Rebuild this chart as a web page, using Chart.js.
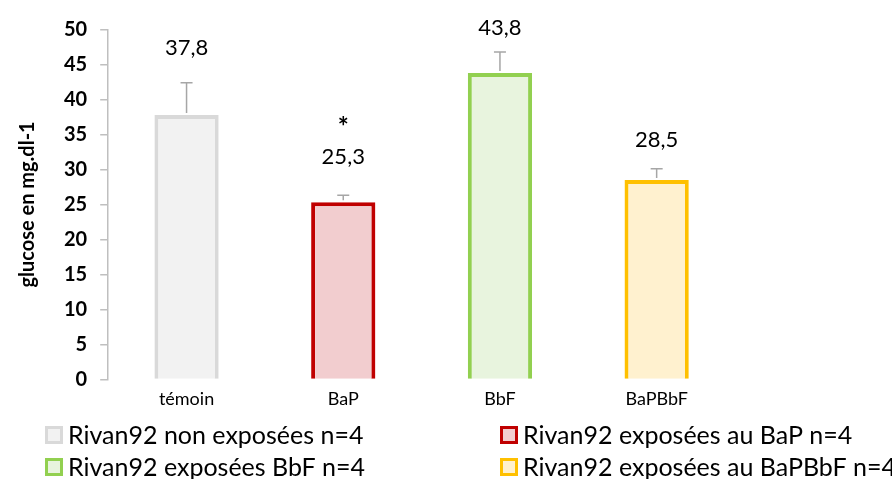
<!DOCTYPE html>
<html><head><meta charset="utf-8">
<script src="https://cdn.jsdelivr.net/npm/chart.js@4/dist/chart.umd.min.js"></script>
<style>html,body{margin:0;padding:0;background:#fff}#wrap{width:892px;height:479px}</style>
</head><body><div id="wrap"><canvas id="c"></canvas></div>
<script>
const categories = ['témoin', 'BaP', 'BbF', 'BaPBbF'];
const means = [37.8, 25.3, 43.8, 28.5];
const errors = [4.6, 1.0, 3.0, 1.6];
const valueLabels = ['37,8', '25,3', '43,8', '28,5'];
const significance = ['', '*', '', ''];
const legendLabels = ['Rivan92 non exposées n=4', 'Rivan92 exposées au BaP n=4', 'Rivan92 exposées BbF n=4', 'Rivan92 exposées au BaPBbF n=4'];
const yTitle = 'glucose en mg.dl-1';

const fills = ['#f2f2f2', '#f2cdcf', '#e8f4de', '#fff1cf'];
const borders = ['#d9d9d9', '#c00000', '#92d050', '#ffc000'];
const FONT = 'Lato';
const labelOffsets = [35, 38, 24, 29];
const starOffset = 73;

const overlay = {
  id: 'overlay',
  afterDatasetsDraw(chart) {
    const ctx = chart.ctx, y = chart.scales.y;
    const meta = chart.getDatasetMeta(0);
    ctx.save();
    meta.data.forEach((bar, i) => {
      const top = y.getPixelForValue(means[i] + errors[i]);
      const base = y.getPixelForValue(means[i]);
      ctx.strokeStyle = '#a6a6a6'; ctx.lineWidth = 1.5;
      ctx.beginPath();
      ctx.moveTo(bar.x, base - 2); ctx.lineTo(bar.x, top);
      ctx.moveTo(bar.x - 6, top); ctx.lineTo(bar.x + 6, top);
      ctx.stroke();
      ctx.fillStyle = '#000';
      ctx.textAlign = 'center'; ctx.textBaseline = 'middle';
      ctx.font = '22px ' + FONT;
      ctx.fillText(valueLabels[i], bar.x, top - labelOffsets[i]);
      if (significance[i]) {
        ctx.font = 'bold 26px ' + FONT;
        ctx.fillText(significance[i], bar.x, top - starOffset + 5);
      }
    });
    // legend
    const pos = [[45, 435], [500, 435], [45, 467], [500, 467]];
    ctx.font = '25px ' + FONT;
    ctx.textAlign = 'left';
    legendLabels.forEach((t, i) => {
      const [x, yy] = pos[i];
      ctx.fillStyle = fills[i]; ctx.strokeStyle = borders[i]; ctx.lineWidth = 3;
      ctx.fillRect(x + 1.5, yy - 7.5, 15, 15);
      ctx.strokeRect(x + 1.5, yy - 7.5, 15, 15);
      ctx.fillStyle = '#000';
      ctx.fillText(t, x + 23, yy + 1);
    });
    ctx.restore();
  }
};

new Chart(document.getElementById('c'), {
  type: 'bar',
  data: {
    labels: categories,
    datasets: [{
      data: means,
      backgroundColor: fills,
      borderColor: borders,
      borderWidth: 4,
      barPercentage: 0.41,
      categoryPercentage: 1
    }]
  },
  options: {
    responsive: true, maintainAspectRatio: false, animation: false,
    layout: { padding: { left: 8, right: 157, top: 29.5, bottom: 68 } },
    plugins: { legend: { display: false }, tooltip: { enabled: false } },
    scales: {
      x: {
        grid: { display: false }, border: { display: false },
        ticks: { color: '#000', font: { family: FONT, size: 18 }, padding: 1, maxRotation: 0, autoSkip: false }
      },
      y: {
        min: 0, max: 50,
        ticks: { stepSize: 5, color: '#000', font: { family: FONT, size: 20, weight: 'bold' }, padding: 13 },
        grid: { drawOnChartArea: false, drawTicks: true, tickLength: 8, color: '#bfbfbf', lineWidth: 1.5 },
        border: { display: true, color: '#bfbfbf', width: 1.5 },
        title: { display: true, text: yTitle, color: '#000', font: { family: FONT, size: 20, weight: 'bold' }, padding: { top: 8, bottom: 11 } }
      }
    }
  },
  plugins: [overlay]
});
</script></body></html>
